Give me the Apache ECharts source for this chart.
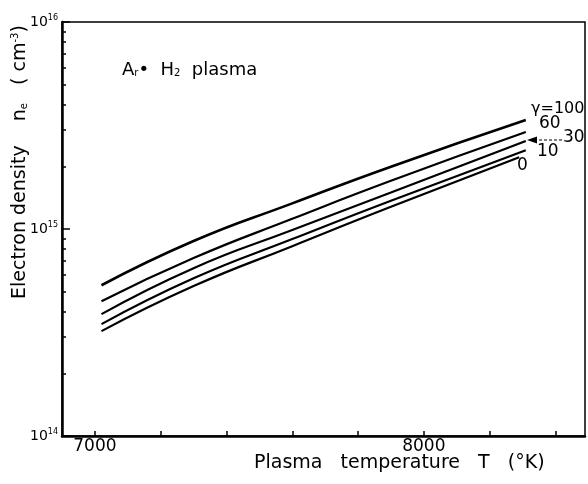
<!DOCTYPE html>
<html>
<head>
<meta charset="utf-8">
<script src="https://cdn.jsdelivr.net/npm/echarts@6/dist/echarts.min.js"></script>
<style>
  html, body { margin: 0; padding: 0; background: #fff; }
  #chart { width: 588px; height: 484px; }
</style>
</head>
<body>
<div id="chart"></div>
<script>
// plasma temperature (K) where curves were read
var temps = [7020, 7300, 7600, 7900, 8310];
var temps0 = [7020, 7300, 7600, 7900, 8290];
// electron density n_e (cm^-3) for each gamma
var g100 = [5.35e14, 8.75e14, 1.33e15, 2.00e15, 3.36e15];
var g60 = [4.48e14, 7.24e14, 1.12e15, 1.71e15, 2.94e15];
var g30 = [3.88e14, 6.47e14, 9.89e14, 1.50e15, 2.66e15];
var g10 = [3.47e14, 5.78e14, 8.94e14, 1.37e15, 2.40e15];
var g0 = [3.21e14, 5.30e14, 8.26e14, 1.28e15, 2.22e15];

var xTicks = [7000, 7200, 7400, 7600, 7800, 8000, 8200, 8400];
var xLabels = [7000, 8000];
var yMajor = [1e14, 1e15, 1e16];
var yMinor = [2e14, 3e14, 4e14, 5e14, 6e14, 7e14, 8e14, 9e14,
              2e15, 3e15, 4e15, 5e15, 6e15, 7e15, 8e15, 9e15];

function pairs(xs, ys) {
    var out = [];
    for (var i = 0; i < xs.length; i++) out.push([xs[i], ys[i]]);
    return out;
}

var font = '"DejaVu Sans", Verdana, sans-serif';
var chart = echarts.init(document.getElementById('chart'));

function curve(name, data, w) {
    return {
        name: name,
        type: 'line',
        smooth: true,
        showSymbol: false,
        silent: true,
        data: data,
        lineStyle: { color: '#000', width: w }
    };
}

var option = {
    backgroundColor: '#fff',
    animation: false,
    grid: {
        left: 62, top: 22, right: 3, bottom: 48,
        show: true, borderColor: '#000', borderWidth: 1.5
    },
    xAxis: {
        type: 'value',
        min: 6900,
        max: 8490,
        axisLine: { lineStyle: { color: '#000', width: 2.5 } },
        axisTick: { inside: true, length: 5, customValues: xTicks, lineStyle: { color: '#000', width: 1.5 } },
        axisLabel: {
            customValues: xLabels, margin: 2, color: '#000',
            fontFamily: font, fontSize: 17,
            formatter: function (v) { return String(v); }
        },
        splitLine: { show: false }
    },
    yAxis: [{
        type: 'log',
        logBase: 10,
        min: 1e14,
        max: 1e16,
        axisLine: { lineStyle: { color: '#000', width: 2.5 } },
        axisTick: { inside: true, length: 8, customValues: yMajor, lineStyle: { color: '#000', width: 1.5 } },
        axisLabel: {
            customValues: yMajor, margin: 4, color: '#000',
            fontFamily: font, fontSize: 14,
            formatter: function (v) {
                return '10{s|' + Math.round(Math.log10(v)) + '}';
            },
            rich: { s: { fontSize: 8, fontFamily: font, verticalAlign: 'top', padding: [0, 0, 9, 0] } }
        },
        splitLine: { show: false }
    }, {
        type: 'log',
        logBase: 10,
        min: 1e14,
        max: 1e16,
        position: 'left',
        axisLine: { show: false },
        axisTick: { inside: true, length: 4, customValues: yMinor, lineStyle: { color: '#000', width: 1.5 } },
        axisLabel: { show: false },
        splitLine: { show: false }
    }],
    series: [
        curve('100', pairs(temps, g100), 2.6),
        curve('60', pairs(temps, g60), 2.2),
        curve('30', pairs(temps, g30), 2.2),
        curve('10', pairs(temps, g10), 2.2),
        curve('0', pairs(temps0, g0), 2.2)
    ],
    graphic: [
        {
            type: 'text', left: 122, top: 61,
            style: {
                text: 'A{r|r}•  H{r|2}  plasma',
                font: '18px ' + font, fill: '#000',
                rich: { r: { fontSize: 10, fontFamily: font, padding: [7, 0, 0, 0] } }
            }
        },
        {
            type: 'text', x: 254, y: 454,
            style: { text: 'Plasma   temperature   T   (°K)', font: '19px ' + font, fill: '#000' }
        },
        {
            type: 'text', x: 10, y: 299, rotation: Math.PI / 2,
            style: {
                text: 'Electron density    n{e|e}   ( cm{t|-3})',
                font: '19px ' + font, fill: '#000',
                rich: {
                    e: { fontSize: 10, fontFamily: font, padding: [8, 0, 0, 0] },
                    t: { fontSize: 10, fontFamily: font, padding: [0, 0, 10, 0] }
                }
            }
        },
        { type: 'text', x: 531, y: 101, style: { text: 'γ=100', font: '16px ' + font, fill: '#000' } },
        { type: 'text', x: 539, y: 115, style: { text: '60', font: '17px ' + font, fill: '#000' } },
        { type: 'text', x: 563, y: 129, style: { text: '30', font: '17px ' + font, fill: '#000' } },
        {
            type: 'line', shape: { x1: 534, y1: 140, x2: 562, y2: 140 },
            style: { stroke: '#000', lineWidth: 1.2, lineDash: [3, 2] }
        },
        {
            type: 'polygon', shape: { points: [[527, 140], [537, 136.5], [537, 143.5]] },
            style: { fill: '#000' }
        },
        { type: 'text', x: 537, y: 143, style: { text: '10', font: '17px ' + font, fill: '#000' } },
        { type: 'text', x: 517, y: 157, style: { text: '0', font: '17px ' + font, fill: '#000' } }
    ]
};
chart.setOption(option);
</script>
</body>
</html>
